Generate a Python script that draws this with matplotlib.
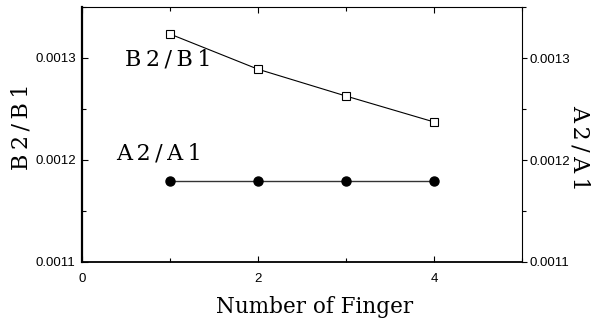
import matplotlib
matplotlib.use("Agg")
import matplotlib.pyplot as plt
from matplotlib.ticker import MultipleLocator, FixedLocator

fingers = [1, 2, 3, 4]
b_ratio = [0.0013235, 0.001289, 0.0012627, 0.0012373]
a_ratio = [0.0011794, 0.0011794, 0.0011794, 0.0011794]
x_ticks = [0, 2, 4]
y_ticks = [0.0011, 0.0012, 0.0013]
y_tick_labels = ["0.0011", "0.0012", "0.0013"]

serif = ["DejaVu Serif"]
sans = ["Liberation Sans", "DejaVu Sans"]
TS = "\u2009"  # thin space used to widen the label lettering

def spaced(s):
    return TS.join(s)

fig = plt.figure(figsize=(5.92, 3.24), dpi=100)
ax = fig.add_axes([82/592, 62/324, 440/592, 255/324])

ax.plot(fingers, b_ratio, color="black", lw=0.8, marker="s", ms=5.2,
        mfc="white", mec="black", mew=0.8, zorder=3)
ax.plot(fingers, a_ratio, color="#333333", lw=1.0, marker="o", ms=6.5,
        mfc="black", mec="black", zorder=3)

ax.set_xlim(0, 5)
ax.set_ylim(0.0011, 0.00135)
ax.xaxis.set_major_locator(FixedLocator(x_ticks))
ax.xaxis.set_minor_locator(MultipleLocator(1))
ax.yaxis.set_major_locator(FixedLocator(y_ticks))
ax.yaxis.set_minor_locator(MultipleLocator(0.00005))
ax.set_yticklabels(y_tick_labels)
ax.set_xticklabels([str(v) for v in x_ticks])

ax.tick_params(axis="x", which="both", direction="in", top=True, bottom=True,
               labelsize=9.5, pad=8)
ax.tick_params(axis="x", which="major", length=4, width=0.8)
ax.tick_params(axis="x", which="minor", length=3, width=0.8)
ax.tick_params(axis="y", which="both", direction="in", left=True, right=False,
               labelsize=9.5, pad=4.5)
ax.tick_params(axis="y", which="major", length=4, width=0.8)
ax.tick_params(axis="y", which="minor", length=3, width=0.8)
for lab in ax.get_xticklabels() + ax.get_yticklabels():
    lab.set_family(sans)

ax.spines["left"].set_linewidth(1.6)
ax.spines["bottom"].set_linewidth(1.3)
ax.spines["top"].set_linewidth(0.8)
ax.spines["right"].set_linewidth(0.8)

ax2 = ax.twinx()
ax2.set_ylim(ax.get_ylim())
ax2.yaxis.set_major_locator(FixedLocator(y_ticks))
ax2.yaxis.set_minor_locator(MultipleLocator(0.00005))
ax2.set_yticklabels(y_tick_labels)
ax2.tick_params(axis="y", which="both", direction="out", labelsize=9.5, pad=1.5)
ax2.tick_params(axis="y", which="major", length=3.6, width=0.8)
ax2.tick_params(axis="y", which="minor", length=3.0, width=0.8)
for lab in ax2.get_yticklabels():
    lab.set_family(sans)
for s in ax2.spines.values():
    s.set_visible(False)

fig.text(315/592, 1 - 307/324, "Number of Finger", family=serif, fontsize=15.5,
         ha="center", va="center")
fig.text(21/592, 1 - 127/324, spaced("B2/B1"), family=serif, fontsize=16,
         rotation=90, ha="center", va="center")
fig.text(580/592, 1 - 148/324, spaced("A2/A1"), family=serif, fontsize=16,
         rotation=270, ha="center", va="center")

ax.text(0.489, 0.001299, spaced("B2/B1"), family=serif, fontsize=16,
        va="center", ha="left")
ax.text(0.386, 0.0012064, spaced("A2/A1"), family=serif, fontsize=16,
        va="center", ha="left")

fig.savefig("out.png", dpi=100)
